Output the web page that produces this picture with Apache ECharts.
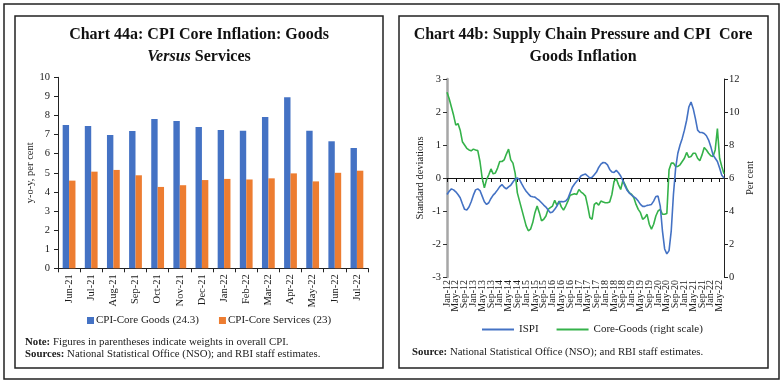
<!DOCTYPE html>
<html>
<head>
<meta charset="utf-8">
<script src="https://cdn.jsdelivr.net/npm/echarts@6/dist/echarts.min.js"></script>
<style>
html,body{margin:0;padding:0;background:#fff;}
#c{width:784px;height:385px;}
</style>
</head>
<body>
<div id="c"></div>
<script>
// ---- Chart 44a data ----
var barCategories = ['Jun-21','Jul-21','Aug-21','Sep-21','Oct-21','Nov-21','Dec-21','Jan-22','Feb-22','Mar-22','Apr-22','May-22','Jun-22','Jul-22'];
var coreGoods = [7.50, 7.45, 6.98, 7.19, 7.82, 7.71, 7.40, 7.24, 7.20, 7.92, 8.95, 7.20, 6.65, 6.30];
var coreServices = [4.59, 5.06, 5.15, 4.87, 4.26, 4.35, 4.62, 4.68, 4.65, 4.71, 4.97, 4.55, 5.00, 5.11];
var barYTicks = [0,1,2,3,4,5,6,7,8,9,10];

// ---- Chart 44b data (monthly, Jan-12 to Jul-22) ----
var monthNames = ['Jan','Feb','Mar','Apr','May','Jun','Jul','Aug','Sep','Oct','Nov','Dec'];
var lineCategories = [];
for (var yr = 12; yr <= 22; yr++) {
  for (var mo = 0; mo < 12; mo++) {
    if (yr === 22 && mo > 6) break;
    lineCategories.push(monthNames[mo] + '-' + yr);
  }
}
var ispi = [
  -0.50,-0.40,-0.33,-0.36,-0.42,-0.50,-0.60,-0.78,-0.95,-0.97,-0.88,-0.72,
  -0.52,-0.36,-0.33,-0.38,-0.55,-0.72,-0.80,-0.75,-0.62,-0.52,-0.45,-0.36,
  -0.26,-0.20,-0.28,-0.33,-0.27,-0.22,-0.12,-0.03, 0.00,-0.05,-0.18,-0.30,
  -0.40,-0.48,-0.55,-0.57,-0.58,-0.63,-0.68,-0.75,-0.82,-0.88,-0.97,-1.05,
  -1.03,-0.95,-0.85,-0.72,-0.71,-0.72,-0.70,-0.62,-0.45,-0.28,-0.18,-0.10,
  -0.03, 0.07, 0.10, 0.12, 0.06, 0.00, 0.02, 0.10, 0.18, 0.32, 0.42, 0.47,
   0.46, 0.40, 0.26, 0.18, 0.17, 0.23, 0.16, 0.06,-0.08,-0.25,-0.38,-0.46,
  -0.52,-0.57,-0.62,-0.70,-0.80,-0.86,-0.86,-0.83,-0.82,-0.80,-0.70,-0.56,
  -0.55,-0.85,-1.60,-2.15,-2.30,-2.20,-1.60,-0.50, 0.30, 0.75, 1.00, 1.20,
   1.45, 1.75, 2.15, 2.30, 2.10, 1.80, 1.45, 1.38, 1.38, 1.35, 1.28, 1.15,
   0.95, 0.70, 0.60, 0.50, 0.30, 0.08, 0.00
];
var coreGoodsInfl = [
  11.2,10.8,10.3, 9.8, 9.2, 9.3, 8.9, 8.2, 8.0, 7.8, 7.7,7.65,
  7.75, 7.7,7.66, 7.0, 6.0, 5.4, 5.9, 6.2,6.55,6.25, 6.3, 6.6,
   7.0, 7.0, 7.1,7.45,7.75, 7.1, 6.9, 6.3, 5.1, 4.6, 4.1, 3.6,
   3.1, 2.8, 2.9, 3.3, 3.9, 4.3, 3.9, 3.4, 3.5, 3.7, 4.1, 4.2,
   4.3,4.65,4.35, 4.6,4.25,4.05, 4.3, 4.6,4.95, 5.0,5.05, 5.0,
   5.3,5.15,5.05, 4.9, 4.3, 3.6, 3.5, 4.4, 4.5,4.35, 4.6,4.55,
   4.5, 4.5,4.55, 5.0, 5.8,5.95, 5.6, 5.3,5.85, 5.6, 5.3, 5.1,
   5.0, 4.8, 4.4, 4.1, 3.9, 3.5, 3.6, 3.8, 3.2, 2.9, 3.2, 3.7,
   4.0, 4.1, 3.8, 3.8,3.85, 6.5, 6.9, 6.9, 6.7, 6.7, 6.8, 7.0,
   7.2,7.55,7.25, 7.3, 7.5, 7.5, 7.2,7.05, 7.4,7.85, 7.7, 7.5,
  7.35, 7.3, 7.7, 9.0, 7.2, 6.7,6.25
];

var SERIF = '"Liberation Serif", "DejaVu Serif", serif';
var TXT = '#1a1a1a';
var BLUE = '#4472C4', ORANGE = '#ED7D31', GREEN = '#35B24A';

var chart = echarts.init(document.getElementById('c'), null, {renderer: 'canvas'});

var option = {
  animation: false,
  backgroundColor: '#fff',
  textStyle: {fontFamily: SERIF, color: TXT},
  grid: [
    {left: 58, top: 77.3, width: 310, height: 191, containLabel: false},
    {left: 447, top: 79, width: 277, height: 198, containLabel: false}
  ],
  xAxis: [
    { // 0: bar chart categories
      type: 'category', gridIndex: 0, data: barCategories,
      axisLine: {lineStyle: {color: '#222', width: 1}},
      axisTick: {show: true, length: 4, interval: 0, lineStyle: {color: '#222'}},
      axisLabel: {rotate: 90, interval: 0, fontSize: 10.5, margin: 6, color: TXT, fontFamily: SERIF}
    },
    { // 1: line chart labels at bottom
      type: 'category', gridIndex: 1, data: lineCategories, boundaryGap: false,
      position: 'bottom',
      axisLine: {show: false, onZero: false},
      axisTick: {show: false},
      axisLabel: {rotate: 90, interval: 0, fontSize: 10, lineHeight: 8, margin: 3, color: TXT, fontFamily: SERIF,
                  formatter: function (v, idx) { return idx % 4 === 0 ? v : ''; }}
    },
    { // 2: line chart zero line with ticks
      type: 'category', gridIndex: 1, data: lineCategories, boundaryGap: false,
      position: 'top',
      axisLine: {show: true, onZero: true, onZeroAxisIndex: 1, lineStyle: {color: '#111', width: 1}},
      axisTick: {show: true, inside: true, interval: 3, length: 4, lineStyle: {color: '#111'}},
      axisLabel: {show: false}
    }
  ],
  yAxis: [
    { // 0
      type: 'value', gridIndex: 0, min: 0, max: 10, interval: 1,
      name: 'y-o-y, per cent', nameLocation: 'middle', nameGap: 19,
      nameTextStyle: {fontSize: 10.5, color: TXT, fontFamily: SERIF},
      axisLine: {show: true, lineStyle: {color: '#222'}},
      axisTick: {show: true, length: 4, lineStyle: {color: '#222'}},
      axisLabel: {fontSize: 10.5, margin: 8, color: TXT, fontFamily: SERIF},
      splitLine: {show: false}
    },
    { // 1
      type: 'value', gridIndex: 1, min: -3, max: 3, interval: 1, position: 'left',
      name: 'Standard deviations', nameLocation: 'middle', nameGap: 21,
      nameTextStyle: {fontSize: 10.5, color: TXT, fontFamily: SERIF},
      axisLine: {show: true, onZero: false, lineStyle: {color: '#a6a6a6', width: 2.5}},
      axisTick: {show: true, length: 4, lineStyle: {color: '#333'}},
      axisLabel: {fontSize: 10.5, margin: 6, color: TXT, fontFamily: SERIF},
      splitLine: {show: false}
    },
    { // 2
      type: 'value', gridIndex: 1, min: 0, max: 12, interval: 2, position: 'right',
      name: 'Per cent', nameLocation: 'middle', nameGap: 21,
      nameTextStyle: {fontSize: 10.5, color: TXT, fontFamily: SERIF},
      axisLine: {show: true, onZero: false, lineStyle: {color: '#222', width: 1}},
      axisTick: {show: true, length: 4, lineStyle: {color: '#222'}},
      axisLabel: {fontSize: 10.5, margin: 5, color: TXT, fontFamily: SERIF},
      splitLine: {show: false}
    }
  ],
  legend: [
    {
      data: ['CPI-Core Goods (24.3)', 'CPI-Core Services (23)'],
      left: 82, top: 310, icon: 'rect', itemWidth: 7, itemHeight: 7, itemGap: 20,
      textStyle: {fontSize: 11, color: TXT, fontFamily: SERIF, padding: [0,0,0,-3]}
    },
    {
      data: ['ISPI', 'Core-Goods (right scale)'],
      left: 477, top: 319, icon: 'rect', itemWidth: 32, itemHeight: 2, itemGap: 18,
      textStyle: {fontSize: 11, color: TXT, fontFamily: SERIF}
    }
  ],
  series: [
    {name: 'CPI-Core Goods (24.3)', type: 'bar', xAxisIndex: 0, yAxisIndex: 0,
     data: coreGoods, barWidth: 6.4, barGap: '0%', itemStyle: {color: BLUE}},
    {name: 'CPI-Core Services (23)', type: 'bar', xAxisIndex: 0, yAxisIndex: 0,
     data: coreServices, barWidth: 6.4, barGap: '0%', itemStyle: {color: ORANGE}},
    {name: 'ISPI', type: 'line', xAxisIndex: 1, yAxisIndex: 1, data: ispi,
     showSymbol: false, symbol: 'none', lineStyle: {color: BLUE, width: 1.6}, itemStyle: {color: BLUE}, z: 3},
    {name: 'Core-Goods (right scale)', type: 'line', xAxisIndex: 1, yAxisIndex: 2, data: coreGoodsInfl,
     showSymbol: false, symbol: 'none', lineStyle: {color: GREEN, width: 1.6}, itemStyle: {color: GREEN}, z: 2}
  ],
  graphic: [
    {type: 'rect', shape: {x: 4, y: 4, width: 775, height: 375}, style: {fill: 'none', stroke: '#222', lineWidth: 1.5}, z: 0, silent: true},
    {type: 'rect', shape: {x: 15, y: 16, width: 368, height: 352}, style: {fill: 'none', stroke: '#222', lineWidth: 1.5}, silent: true},
    {type: 'rect', shape: {x: 399, y: 16, width: 369, height: 352}, style: {fill: 'none', stroke: '#222', lineWidth: 1.5}, silent: true},
    {type: 'text', x: 199, y: 35, style: {text: 'Chart 44a: CPI Core Inflation: Goods', textAlign: 'center', textVerticalAlign: 'middle', font: 'bold 16px ' + SERIF, fill: '#111'}},
    {type: 'text', x: 199, y: 56.5, style: {text: '{i|Versus} Services', textAlign: 'center', textVerticalAlign: 'middle', font: 'bold 16px ' + SERIF, fill: '#111',
      rich: {i: {fontStyle: 'italic', fontWeight: 'bold', fontSize: 16, fontFamily: SERIF, fill: '#111'}}}},
    {type: 'text', x: 583, y: 35, style: {text: 'Chart 44b: Supply Chain Pressure and CPI  Core', textAlign: 'center', textVerticalAlign: 'middle', font: 'bold 16px ' + SERIF, fill: '#111'}},
    {type: 'text', x: 583, y: 56.5, style: {text: 'Goods Inflation', textAlign: 'center', textVerticalAlign: 'middle', font: 'bold 16px ' + SERIF, fill: '#111'}},
    {type: 'text', x: 25, y: 342, style: {text: '{b|Note:} Figures in parentheses indicate weights in overall CPI.', textVerticalAlign: 'middle', font: '10.8px ' + SERIF, fill: TXT,
      rich: {b: {fontWeight: 'bold', fontSize: 10.8, fontFamily: SERIF, fill: TXT}}}},
    {type: 'text', x: 25, y: 354, style: {text: '{b|Sources:} National Statistical Office (NSO); and RBI staff estimates.', textVerticalAlign: 'middle', font: '10.8px ' + SERIF, fill: TXT,
      rich: {b: {fontWeight: 'bold', fontSize: 10.8, fontFamily: SERIF, fill: TXT}}}},
    {type: 'text', x: 412, y: 352, style: {text: '{b|Source:} National Statistical Office (NSO); and RBI staff estimates.', textVerticalAlign: 'middle', font: '10.8px ' + SERIF, fill: TXT,
      rich: {b: {fontWeight: 'bold', fontSize: 10.8, fontFamily: SERIF, fill: TXT}}}}
  ]
};
chart.setOption(option);
</script>
</body>
</html>
